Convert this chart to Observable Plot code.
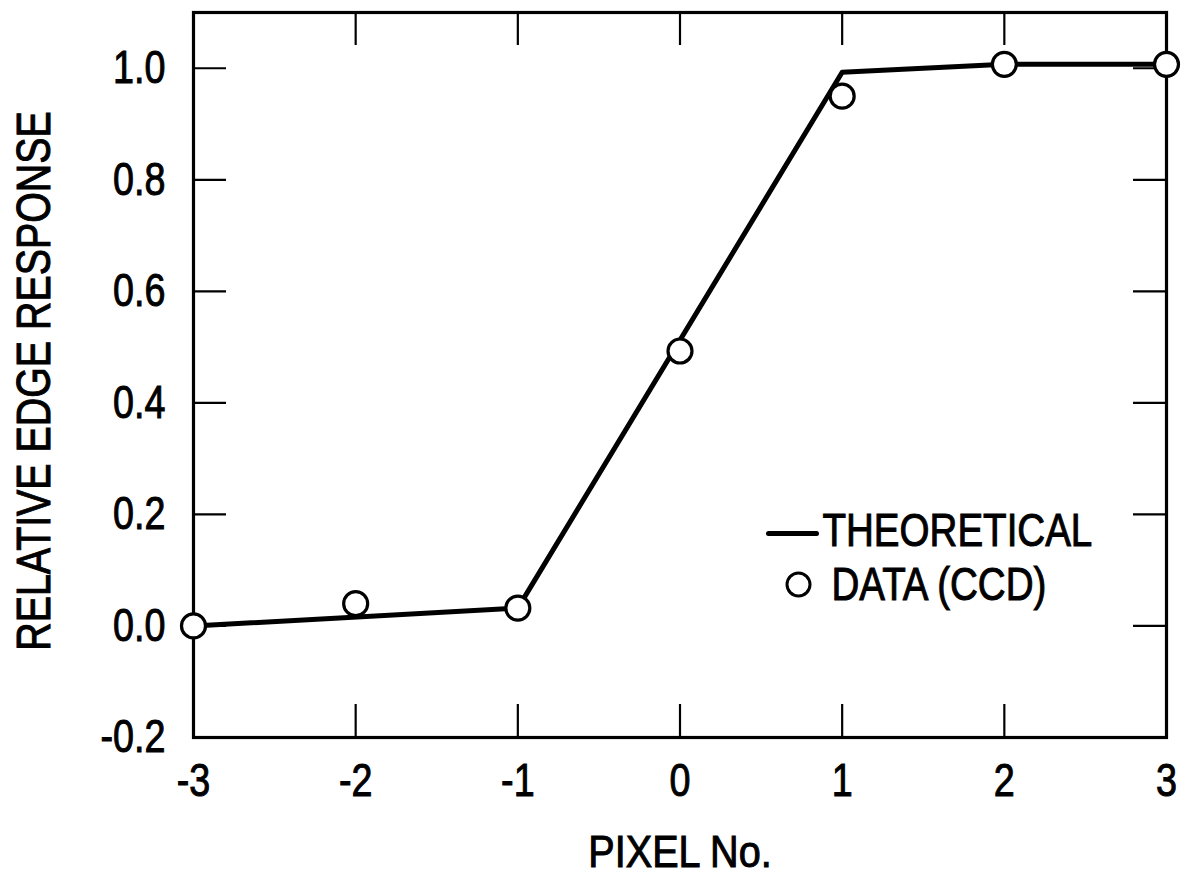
<!DOCTYPE html>
<html>
<head>
<meta charset="utf-8">
<script src="https://cdn.jsdelivr.net/npm/d3@7"></script>
<script src="https://cdn.jsdelivr.net/npm/@observablehq/plot@0.6"></script>
<style>
  html, body { margin: 0; padding: 0; background: #fff; }
  #chart svg { display: block; }
</style>
</head>
<body>
<div id="chart"></div>
<script>
// Theoretical edge response (polyline)
const theoryX = [-3, -1, 1, 2, 3];
const theoryY = [0.0, 0.032, 0.993, 1.007, 1.007];
// Measured CCD data
const dataX = [-3, -2, -1, 0, 1, 2, 3];
const dataY = [0.0, 0.04, 0.032, 0.493, 0.95, 1.007, 1.007];
// Tick values
const xTicks = [-3, -2, -1, 0, 1, 2, 3];
const xTicksInner = [-2, -1, 0, 1, 2];
const yTicks = [-0.2, 0.0, 0.2, 0.4, 0.6, 0.8, 1.0];
const yTicksInner = [0.0, 0.2, 0.4, 0.6, 0.8, 1.0];
const xLabel = "PIXEL No.";
const yLabel = "RELATIVE EDGE RESPONSE";
const legendLabels = ["THEORETICAL", "DATA (CCD)"];

const theory = theoryX.map((x, i) => ({x, y: theoryY[i]}));
const data = dataX.map((x, i) => ({x, y: dataY[i]}));

const W = 1188, H = 873;
const mL = 193, mR = 22, mT = 12, mB = 136;
const innerW = W - mL - mR, innerH = H - mT - mB;
const tickLen = 33;
const font = "'Liberation Sans', Arial, Helvetica, sans-serif";

const lineShape = {
  draw(context, l) { context.moveTo(0, 0); context.lineTo(0, -l); }
};

const chart = Plot.plot({
  width: W,
  height: H,
  marginLeft: mL,
  marginRight: mR,
  marginTop: mT,
  marginBottom: mB,
  style: {fontFamily: font, fontSize: "45px", color: "#000", background: "#fff", overflow: "visible"},
  x: {domain: [-3, 3]},
  y: {domain: [-0.2, 1.1]},
  marks: [
    // inward ticks
    Plot.tickY(yTicksInner, {y: d => d, insetRight: innerW - tickLen, stroke: "#000", strokeWidth: 2.2}),
    Plot.tickY(yTicksInner, {y: d => d, insetLeft: innerW - tickLen, stroke: "#000", strokeWidth: 2.2}),
    Plot.tickX(xTicksInner, {x: d => d, insetTop: innerH - tickLen, stroke: "#000", strokeWidth: 2.2}),
    Plot.tickX(xTicksInner, {x: d => d, insetBottom: innerH - tickLen, stroke: "#000", strokeWidth: 2.2}),
    Plot.frame({stroke: "#000", strokeWidth: 3.2}),
    Plot.axisX({ticks: xTicks, tickSize: 0, tickPadding: 26, tickFormat: d => String(d), label: null, fontSize: 46}),
    Plot.axisY({ticks: yTicks, tickSize: 0, tickPadding: 28, tickFormat: d => d.toFixed(1), label: null, fontSize: 46}),
    Plot.line(theory, {x: "x", y: "y", stroke: "#000", strokeWidth: 5, strokeLinejoin: "round"}),
    Plot.dot(data, {x: "x", y: "y", r: 12, stroke: "#000", strokeWidth: 3.2, fill: "#fff"}),
    // axis titles
    Plot.text([xLabel], {text: d => d, frameAnchor: "bottom", dy: 115, textAnchor: "middle", lineAnchor: "middle", fontSize: 44}),
    Plot.text([yLabel], {text: d => d, frameAnchor: "left", rotate: -90, dx: -159, dy: 6, textAnchor: "middle", lineAnchor: "middle", fontSize: 48}),
    // legend
    Plot.vector([0], {frameAnchor: "top-left", dx: 768 - mL, dy: 533 - mT, rotate: 90, length: 48, anchor: "start", shape: lineShape, stroke: "#000", strokeWidth: 5}),
    Plot.dot([0], {frameAnchor: "top-left", dx: 798 - mL, dy: 584 - mT, r: 11.5, stroke: "#000", strokeWidth: 3, fill: "#fff"}),
    Plot.text([legendLabels[0]], {text: d => d, frameAnchor: "top-left", dx: 822 - mL, dy: 530 - mT, textAnchor: "start", lineAnchor: "middle", fontSize: 47}),
    Plot.text([legendLabels[1]], {text: d => d, frameAnchor: "top-left", dx: 831 - mL, dy: 584 - mT, textAnchor: "start", lineAnchor: "middle", fontSize: 47})
  ]
});
document.getElementById("chart").appendChild(chart);

// Condense glyphs to mimic a narrow Helvetica face, and thicken slightly
const condense = {"PIXEL No.": 0.9};
d3.select(chart).selectAll("text").each(function() {
  const t = this.textContent;
  const f = condense[t] ?? 0.82;
  const w = this.getComputedTextLength();
  if (w > 0) {
    this.setAttribute("textLength", (w * f).toFixed(1));
    this.setAttribute("lengthAdjust", "spacingAndGlyphs");
  }
  this.style.stroke = "#000";
  this.style.strokeWidth = "1px";
  this.style.paintOrder = "stroke";
});
</script>
</body>
</html>
